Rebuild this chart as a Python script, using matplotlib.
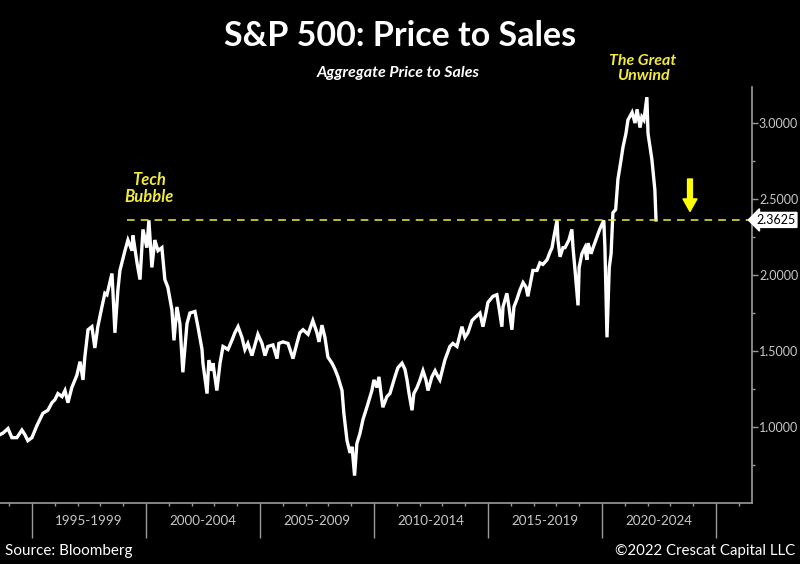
import matplotlib
matplotlib.use('Agg')
import matplotlib.pyplot as plt
import matplotlib.transforms as mtransforms
import numpy as np

# =============================================================================
# Data
# =============================================================================
years = [1993.60, 1993.73, 1993.95, 1994.12, 1994.34, 1994.56, 1994.69, 1994.82,
         1995.00, 1995.22, 1995.48, 1995.70, 1995.88, 1996.01, 1996.14, 1996.32,
         1996.45, 1996.58, 1996.75, 1996.97, 1997.11, 1997.24, 1997.32, 1997.46,
         1997.63, 1997.76, 1997.89, 1998.07, 1998.20, 1998.29, 1998.51, 1998.55,
         1998.64, 1998.77, 1998.86, 1999.08, 1999.21, 1999.39, 1999.43, 1999.61,
         1999.74, 1999.87, 2000.04, 2000.13, 2000.26, 2000.39, 2000.53, 2000.70,
         2000.83, 2000.96, 2001.14, 2001.23, 2001.36, 2001.49, 2001.62, 2001.80,
         2001.93, 2002.15, 2002.28, 2002.46, 2002.50, 2002.68, 2002.76, 2002.89,
         2002.94, 2003.11, 2003.25, 2003.38, 2003.60, 2003.77, 2003.90, 2004.04,
         2004.21, 2004.34, 2004.47, 2004.65, 2004.78, 2004.91, 2005.09, 2005.22,
         2005.35, 2005.57, 2005.75, 2005.83, 2006.01, 2006.23, 2006.36, 2006.45,
         2006.62, 2006.75, 2006.89, 2007.11, 2007.32, 2007.50, 2007.59, 2007.72,
         2007.85, 2007.98, 2008.16, 2008.29, 2008.42, 2008.60, 2008.68, 2008.82,
         2008.95, 2009.04, 2009.15, 2009.25, 2009.39, 2009.52, 2009.69, 2009.91,
         2010.00, 2010.13, 2010.22, 2010.31, 2010.39, 2010.57, 2010.70, 2010.92,
         2011.05, 2011.23, 2011.36, 2011.45, 2011.54, 2011.67, 2011.75, 2011.89,
         2012.02, 2012.15, 2012.28, 2012.37, 2012.54, 2012.68, 2012.81, 2012.89,
         2013.11, 2013.33, 2013.46, 2013.64, 2013.86, 2013.99, 2014.12, 2014.30,
         2014.43, 2014.65, 2014.78, 2014.91, 2015.00, 2015.22, 2015.39, 2015.48,
         2015.61, 2015.66, 2015.83, 2015.92, 2016.05, 2016.14, 2016.27, 2016.40,
         2016.54, 2016.67, 2016.75, 2016.89, 2016.97, 2017.15, 2017.28, 2017.41,
         2017.59, 2017.72, 2017.81, 2017.89, 2018.03, 2018.07, 2018.16, 2018.29,
         2018.38, 2018.55, 2018.68, 2018.73, 2018.82, 2018.95, 2019.00, 2019.12,
         2019.25, 2019.34, 2019.39, 2019.52, 2019.61, 2019.78, 2019.90, 2020.08,
         2020.13, 2020.22, 2020.32, 2020.40, 2020.48, 2020.60, 2020.70, 2020.84,
         2020.92, 2021.05, 2021.14, 2021.32, 2021.45, 2021.54, 2021.67, 2021.75,
         2021.84, 2021.97, 2022.02, 2022.19, 2022.32, 2022.37]
ps = [0.95, 0.96, 0.99, 0.93, 0.93, 0.98, 0.95, 0.91,
      0.93, 1.01, 1.09, 1.11, 1.16, 1.18, 1.22, 1.20,
      1.24, 1.16, 1.26, 1.34, 1.43, 1.31, 1.46, 1.64,
      1.66, 1.52, 1.66, 1.79, 1.88, 1.87, 2.01, 1.90,
      1.62, 1.90, 2.03, 2.16, 2.23, 2.16, 2.26, 2.08,
      1.97, 2.30, 2.18, 2.36, 2.05, 2.23, 2.16, 2.18,
      1.97, 1.92, 1.77, 1.57, 1.79, 1.68, 1.36, 1.68,
      1.75, 1.76, 1.66, 1.51, 1.42, 1.22, 1.44, 1.37,
      1.42, 1.24, 1.42, 1.53, 1.51, 1.57, 1.62, 1.66,
      1.59, 1.51, 1.55, 1.47, 1.54, 1.61, 1.55, 1.47,
      1.53, 1.54, 1.45, 1.55, 1.56, 1.55, 1.49, 1.45,
      1.55, 1.62, 1.64, 1.61, 1.70, 1.62, 1.56, 1.67,
      1.59, 1.46, 1.42, 1.38, 1.33, 1.24, 1.09, 0.91,
      0.83, 0.87, 0.68, 0.89, 0.96, 1.05, 1.13, 1.24,
      1.31, 1.26, 1.33, 1.22, 1.13, 1.20, 1.22, 1.33,
      1.39, 1.42, 1.38, 1.31, 1.22, 1.11, 1.22, 1.26,
      1.31, 1.37, 1.31, 1.24, 1.33, 1.37, 1.33, 1.31,
      1.44, 1.53, 1.55, 1.53, 1.66, 1.59, 1.62, 1.70,
      1.72, 1.75, 1.66, 1.75, 1.82, 1.86, 1.87, 1.79,
      1.66, 1.79, 1.88, 1.79, 1.64, 1.79, 1.84, 1.90,
      1.95, 1.92, 1.86, 1.97, 2.03, 2.03, 2.08, 2.07,
      2.10, 2.15, 2.18, 2.25, 2.36, 2.23, 2.12, 2.18,
      2.18, 2.23, 2.30, 2.18, 2.03, 1.80, 2.05, 2.14,
      2.18, 2.10, 2.21, 2.14, 2.18, 2.25, 2.30, 2.36,
      2.18, 1.59, 2.05, 2.14, 2.41, 2.43, 2.63, 2.76,
      2.84, 2.93, 3.02, 3.07, 3.00, 3.09, 2.97, 3.04,
      3.02, 3.17, 2.93, 2.76, 2.56, 2.3625]

period_starts = [1995, 2000, 2005, 2010, 2015, 2020]
period_labels = ['1995-1999', '2000-2004', '2005-2009', '2010-2014', '2015-2019', '2020-2024']
last_value = 2.3625

# =============================================================================
# Plot
# =============================================================================
plt.rcParams['font.family'] = ['Lato', 'DejaVu Sans']
yellow = '#f2ea3c'
grey = '#c8c8c8'

fig = plt.figure(figsize=(8, 5.64), dpi=100, facecolor='black')
ax = fig.add_axes([0, 61 / 564, 752 / 800, 416 / 564], facecolor='black')

ax.plot(years, ps, color='white', lw=2.4, solid_joinstyle='miter')

ax.set_xlim(1993.6, 2026.58)
ax.set_ylim(0.5, 3.237)

# dashed level line + value tag
ax.plot([1999.15, 2026.58], [last_value, last_value], color=yellow, lw=1.1,
        ls=(0, (5, 4)))
ax.annotate('%.4f' % last_value, xy=(1.0, last_value),
            xycoords=('axes fraction', 'data'), xytext=(3, 0),
            textcoords='offset points', va='center', ha='left',
            fontsize=9, color='black', annotation_clip=False,
            bbox=dict(boxstyle='larrow,pad=0.12', fc='white', ec='white'))

# yellow arrow
ax.annotate('', xy=(2023.86, 2.40), xytext=(2023.86, 2.65),
            arrowprops=dict(arrowstyle='simple,head_width=1.0,head_length=0.9,tail_width=0.35',
                            fc='#ffff00', ec='#ffff00'))

# annotations
ax.text(2000.15, 2.57, 'Tech\nBubble', color=yellow, fontsize=12,
        fontweight='bold', fontstyle='italic', ha='center', va='center',
        linespacing=1.1)
ax.text(2021.8, 3.36, 'The Great\nUnwind', color=yellow, fontsize=11.5,
        fontweight='bold', fontstyle='italic', ha='center', va='center',
        linespacing=1.1, clip_on=False)

# spines
for s in ['left', 'top']:
    ax.spines[s].set_visible(False)
for s in ['right', 'bottom']:
    ax.spines[s].set_color('#9a9a9a')
    ax.spines[s].set_linewidth(1.2)

# y axis on the right
ax.yaxis.tick_right()
ax.set_yticks([1.0, 1.5, 2.0, 2.5, 3.0])
ax.set_yticks(np.arange(0.75, 3.25, 0.25), minor=True)
ax.set_yticklabels(['%.4f' % v for v in [1.0, 1.5, 2.0, 2.5, 3.0]])
ax.tick_params(axis='y', which='major', colors='#9a9a9a', labelcolor=grey,
               length=4, width=1, pad=1, labelsize=9)
ax.tick_params(axis='y', which='minor', colors='#9a9a9a', length=2.5, width=1)

# x axis: yearly minor ticks, 5-year separators
ax.set_xticks(period_starts + [2025])
ax.set_xticklabels([])
ax.set_xticks(np.arange(1994, 2027), minor=True)
ax.tick_params(axis='x', which='major', colors='#9a9a9a', length=25, width=1)
ax.tick_params(axis='x', which='minor', colors='#9a9a9a', length=2.5, width=1)
trans = mtransforms.blended_transform_factory(ax.transData, ax.transAxes)
for start, lab in zip(period_starts, period_labels):
    ax.text(start + 2.5, -0.043, lab, transform=trans, ha='center', va='center',
            color=grey, fontsize=9.6)

# titles and footer
fig.text(0.5, 1 - 36 / 564, 'S&P 500: Price to Sales', color='white',
         fontsize=24.5, fontweight='bold', ha='center', va='center')
fig.text(398 / 800, 1 - 73 / 564, 'Aggregate Price to Sales', color='white',
         fontsize=11.5, fontweight='bold', fontstyle='italic', ha='center', va='center')
fig.text(5 / 800, 1 - 551 / 564, 'Source: Bloomberg', color='white',
         fontsize=11, ha='left', va='center')
fig.text(795 / 800, 1 - 551 / 564, '\u00a92022 Crescat Capital LLC', color='white',
         fontsize=10.8, ha='right', va='center')

fig.savefig('out.png', dpi=100, facecolor='black')
